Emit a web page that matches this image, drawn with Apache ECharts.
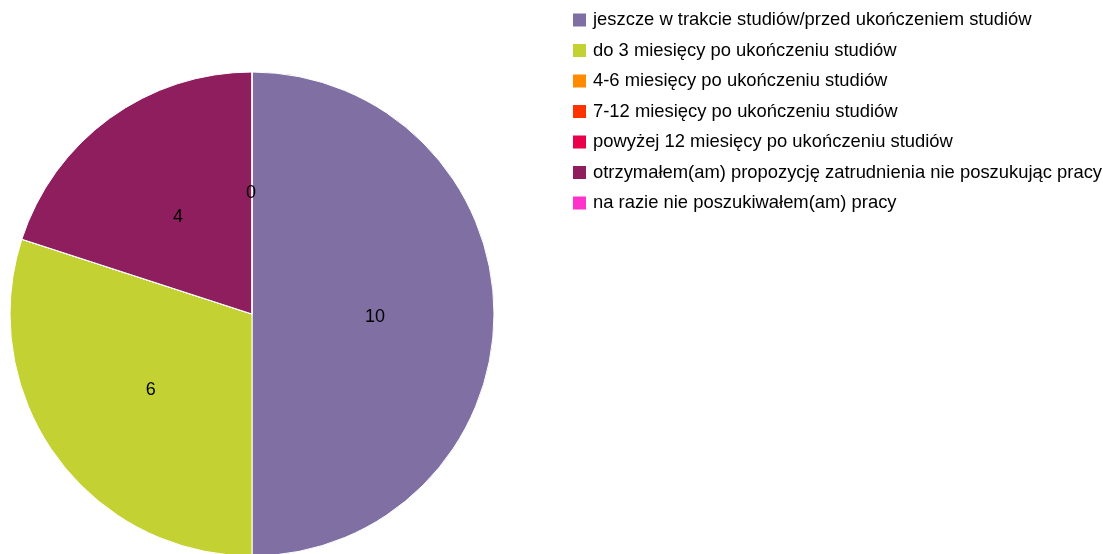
<!DOCTYPE html>
<html><head><meta charset="utf-8">
<script src="https://cdn.jsdelivr.net/npm/echarts@6/dist/echarts.min.js"></script>
<style>html,body{margin:0;padding:0;background:#fff}#c{width:1103px;height:554px}</style>
</head><body><div id="c"></div>
<script>
const categories = [
  'jeszcze w trakcie studiów/przed ukończeniem studiów',
  'do 3 miesięcy po ukończeniu studiów',
  '4-6 miesięcy po ukończeniu studiów',
  '7-12 miesięcy po ukończeniu studiów',
  'powyżej 12 miesięcy po ukończeniu studiów',
  'otrzymałem(am) propozycję zatrudnienia nie poszukując pracy',
  'na razie nie poszukiwałem(am) pracy'
];
const values = [10, 6, 0, 0, 0, 4, 0];
const showLabel = [true, true, false, false, false, true, true];
const colors = ['#7F6FA3', '#C3D232', '#FF8A00', '#FF3300', '#E8004C', '#8E1E5E', '#FF33CC'];

const chart = echarts.init(document.getElementById('c'), null, {renderer: 'canvas'});
chart.setOption({
  animation: false,
  color: colors,
  legend: {
    orient: 'vertical',
    left: 571, top: 11, padding: 0,
    icon: 'rect', itemWidth: 15, itemHeight: 15, itemGap: 12.5,
    textStyle: {fontFamily: 'Liberation Sans, Arial, sans-serif', fontSize: 18.4, color: '#000', padding: [0,0,0,1]},
    data: categories
  },
  series: [{
    type: 'pie',
    center: [252, 314], radius: 242,
    startAngle: 90, clockwise: true,
    avoidLabelOverlap: false,
    itemStyle: {borderColor: '#fff', borderWidth: 1},
    label: {show: true, position: 'inside', offset: [-1, 3], fontFamily: 'Liberation Sans, Arial, sans-serif', fontSize: 18, color: '#000', formatter: '{c}'},
    labelLine: {show: false},
    emphasis: {disabled: true},
    data: categories.map((n, i) => ({name: n, value: values[i], label: {show: showLabel[i]}}))
  }]
});
</script></body></html>
